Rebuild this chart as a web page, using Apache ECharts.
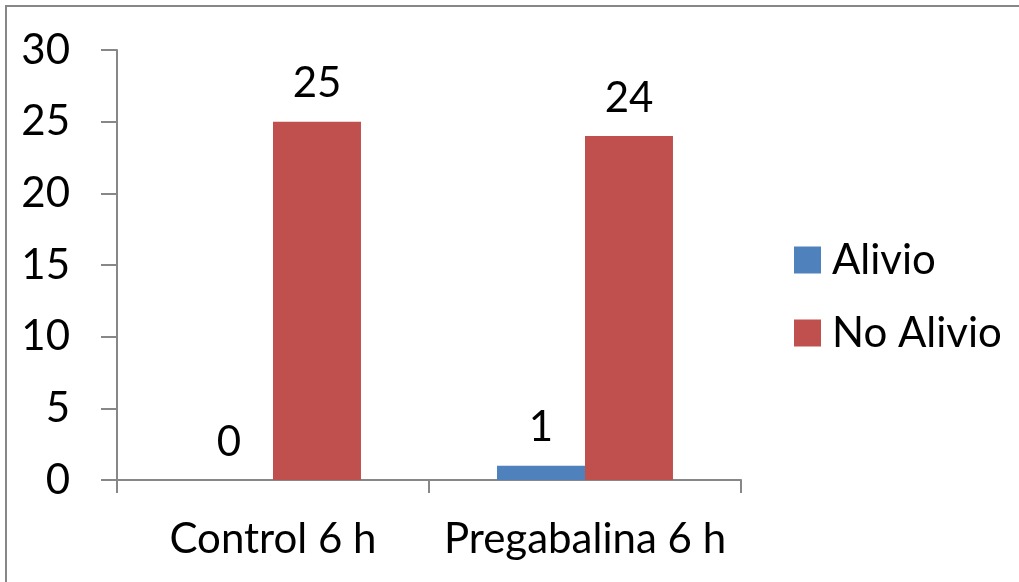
<!DOCTYPE html>
<html>
<head>
<meta charset="utf-8">
<script src="https://cdn.jsdelivr.net/npm/echarts@6/dist/echarts.min.js"></script>
<style>
html,body{margin:0;padding:0;width:1019px;height:582px;overflow:hidden;background:#fff;}
#frame{position:absolute;left:5px;top:5px;width:2000px;height:2000px;border:2px solid #878787;box-sizing:border-box;}
#chart{position:absolute;left:0;top:0;width:1019px;height:582px;}
</style>
</head>
<body>
<div id="frame"></div>
<div id="chart"></div>
<script>
var categories = ["Control 6 h", "Pregabalina 6 h"];
var seriesNames = ["Alivio", "No Alivio"];
var alivio = [0, 1];
var noAlivio = [25, 24];
var yTicks = [0, 5, 10, 15, 20, 25, 30];

var FONT = "Lato, 'Open Sans', sans-serif";
var FS = 42;
var chart = echarts.init(document.getElementById('chart'), null, {renderer: 'canvas'});
var labelCfg = {show: true, position: 'top', distance: 17, color: '#000', fontSize: FS, fontFamily: FONT};
chart.setOption({
  animation: false,
  backgroundColor: 'transparent',
  grid: {left: 117, right: 278, top: 50, bottom: 102, containLabel: false},
  legend: {
    orient: 'vertical', left: 789, top: 234,
    itemWidth: 27, itemHeight: 27, itemGap: 31,
    icon: 'rect',
    textStyle: {fontSize: FS, fontFamily: FONT, color: '#000', padding: [0, 0, 0, 6]},
    data: seriesNames
  },
  xAxis: {
    type: 'category', data: categories,
    axisLine: {lineStyle: {color: '#878787', width: 2}},
    axisTick: {show: true, length: 13, alignWithLabel: false, lineStyle: {color: '#878787', width: 2}},
    axisLabel: {interval: 0, hideOverlap: false, fontSize: FS, fontFamily: FONT, color: '#000', margin: 38}
  },
  yAxis: {
    type: 'value', min: yTicks[0], max: yTicks[yTicks.length - 1], interval: 5,
    axisLine: {show: true, lineStyle: {color: '#878787', width: 2}},
    axisTick: {show: true, length: 16, lineStyle: {color: '#878787', width: 2}},
    splitLine: {show: false},
    axisLabel: {fontSize: FS, fontFamily: FONT, color: '#000', margin: 47}
  },
  series: [
    {name: seriesNames[0], type: 'bar', data: alivio, barGap: '0%', barCategoryGap: '43.6%',
     itemStyle: {color: '#4F81BD'}, label: labelCfg},
    {name: seriesNames[1], type: 'bar', data: noAlivio, barGap: '0%', barCategoryGap: '43.6%',
     itemStyle: {color: '#C0504D'}, label: labelCfg}
  ]
});
</script>
</body>
</html>
